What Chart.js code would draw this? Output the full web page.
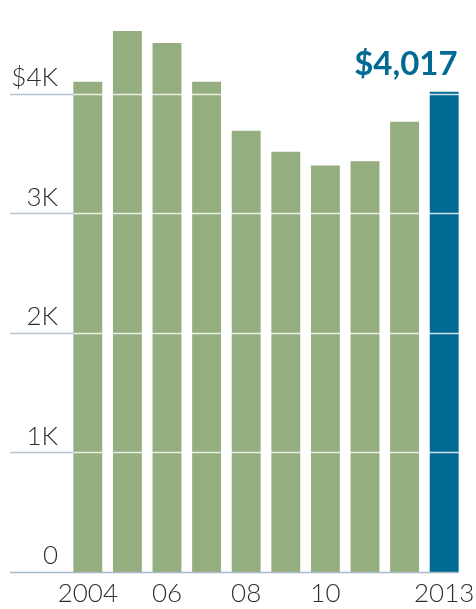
<!DOCTYPE html>
<html>
<head>
<meta charset="utf-8">
<script src="https://cdn.jsdelivr.net/npm/chart.js@4/dist/chart.umd.min.js"></script>
<style>
  html, body { margin: 0; padding: 0; background: #fff; }
  #wrap { width: 476px; height: 609px; }
</style>
</head>
<body>
<div id="wrap"><canvas id="grafico" width="476" height="609"></canvas></div>
<script>
const anos = ['2004', '2005', '2006', '2007', '2008', '2009', '2010', '2011', '2012', '2013'];
const rotulosX = ['2004', '', '06', '', '08', '', '10', '', '', '2013'];
const valores = [4100, 4525, 4425, 4100, 3690, 3515, 3400, 3435, 3765, 4017];
const yTicks = [0, 1000, 2000, 3000, 4000];
const yRotulos = ['0', '1K', '2K', '3K', '$4K'];
const destaque = '$4,017';

const verde = '#95ae80';
const azul = '#006a94';
const corTexto = '#2e2e2e';

// linhas de grade: cinza fora das barras, branco por cima delas
const gradePlugin = {
    id: 'grade',
    afterDatasetsDraw(chart) {
        const ctx = chart.ctx;
        const y = chart.scales.y;
        const area = chart.chartArea;
        const barras = chart.getDatasetMeta(0).data;
        const inicio = barras[0].x - barras[0].width / 2;
        const fim = barras[barras.length - 1].x + barras[barras.length - 1].width / 2;
        ctx.save();
        yTicks.forEach(v => {
            const py = Math.round(y.getPixelForValue(v)) + 0.5;
            if (v === 0) {
                ctx.strokeStyle = '#a9b9c6';
                ctx.lineWidth = 1.5;
                ctx.beginPath();
                ctx.moveTo(10, py);
                ctx.lineTo(fim, py);
                ctx.stroke();
                return;
            }
            ctx.strokeStyle = '#b9c4ce';
            ctx.lineWidth = 1.5;
            ctx.beginPath();
            ctx.moveTo(10, py);
            ctx.lineTo(inicio, py);
            ctx.stroke();
            ctx.strokeStyle = 'rgba(255,255,255,0.8)';
            ctx.beginPath();
            ctx.moveTo(inicio, py);
            ctx.lineTo(area.right, py);
            ctx.stroke();
        });
        // rótulo do último valor
        const ultima = barras[barras.length - 1];
        ctx.fillStyle = azul;
        ctx.font = 'bold 33px Lato';
        ctx.textAlign = 'right';
        ctx.textBaseline = 'alphabetic';
        ctx.fillText(destaque, ultima.x + ultima.width / 2 - 1, ultima.y - 17);
        ctx.restore();
    }
};

const grafico = new Chart(document.getElementById('grafico'), {
    type: 'bar',
    data: {
        labels: anos,
        datasets: [{
            data: valores,
            backgroundColor: valores.map((v, i) => i === valores.length - 1 ? azul : verde),
            barPercentage: 0.73,
            categoryPercentage: 1.0
        }]
    },
    options: {
        responsive: false,
        animation: false,
        layout: { padding: { top: 22, right: 12, left: 0, bottom: 0 } },
        plugins: { legend: { display: false }, tooltip: { enabled: false } },
        scales: {
            x: {
                grid: { display: false, drawTicks: false },
                border: { display: false },
                ticks: {
                    autoSkip: false,
                    maxRotation: 0,
                    color: corTexto,
                    font: { family: 'Lato', size: 26, weight: 300 },
                    padding: 6,
                    callback: (v, i) => rotulosX[i]
                },
                afterFit: s => {
                    s.height = 37;
                    s.paddingLeft = 0;
                    s.paddingRight = 0;
                }
            },
            y: {
                min: 0,
                max: 4600,
                grid: { display: false, drawTicks: false },
                border: { display: false },
                afterBuildTicks: s => { s.ticks = yTicks.map(v => ({ value: v })); },
                ticks: {
                    color: corTexto,
                    font: { family: 'Lato', size: 26, weight: 300 },
                    padding: 10,
                    labelOffset: -16,
                    callback: (v, i) => yRotulos[i]
                },
                afterFit: s => {
                    s.width = 68;
                    s.paddingTop = 0;
                    s.paddingBottom = 0;
                }
            }
        }
    },
    plugins: [gradePlugin]
});
</script>
</body>
</html>
